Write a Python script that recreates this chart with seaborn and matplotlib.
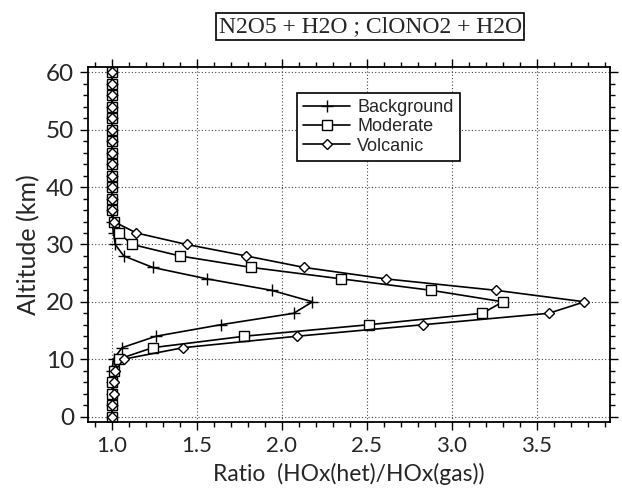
import numpy as np
import pandas as pd
import seaborn as sns
import matplotlib
matplotlib.use("Agg")
import matplotlib.pyplot as plt
from matplotlib.ticker import MultipleLocator

altitude = list(range(0, 62, 2))

# values at 0,2,...,60 km
background = [1.00, 1.00, 1.00, 1.00, 1.00, 1.01, 1.06, 1.26, 1.64, 2.07,
              2.18, 1.94, 1.56, 1.24, 1.07, 1.02, 1.01, 1.00, 1.00, 1.00,
              1.00, 1.00, 1.00, 1.00, 1.00, 1.00, 1.00, 1.00, 1.00, 1.00, 1.00]
moderate = [1.00, 1.00, 1.00, 1.00, 1.01, 1.04, 1.24, 1.78, 2.51, 3.18,
            3.30, 2.88, 2.35, 1.82, 1.40, 1.12, 1.04, 1.01, 1.00, 1.00,
            1.00, 1.00, 1.00, 1.00, 1.00, 1.00, 1.00, 1.00, 1.00, 1.00, 1.00]
volcanic = [1.00, 1.00, 1.01, 1.01, 1.02, 1.07, 1.42, 2.09, 2.83, 3.57,
            3.78, 3.26, 2.61, 2.13, 1.79, 1.44, 1.145, 1.01, 1.00, 1.00,
            1.00, 1.00, 1.00, 1.00, 1.00, 1.00, 1.00, 1.00, 1.00, 1.00, 1.00]
series_names = ["Background", "Moderate", "Volcanic"]
x_ticks = [1.0, 1.5, 2.0, 2.5, 3.0, 3.5]
y_ticks = [0, 10, 20, 30, 40, 50, 60]

frames = []
for name, vals in zip(series_names, [background, moderate, volcanic]):
    frames.append(pd.DataFrame({"ratio": vals, "alt": altitude, "case": name}))
df = pd.concat(frames, ignore_index=True)

sns.set_style("ticks")
plt.rcParams["font.family"] = ["Lato", "DejaVu Sans"]

fig = plt.figure(figsize=(6.22, 4.95), dpi=100)
ax = fig.add_axes([0.1415, 0.147, 0.8392, 0.7183])

marker_map = {"Background": ("+", 8), "Moderate": ("s", 6.5), "Volcanic": ("D", 5.0)}
for name in series_names:
    mk, ms = marker_map[name]
    sns.lineplot(data=df[df["case"] == name], x="ratio", y="alt",
                 color="black", marker=mk, markersize=ms,
                 sort=False, estimator=None, legend=False,
                 linewidth=1.2, markeredgecolor="black",
                 markerfacecolor="white", markeredgewidth=1.0, ax=ax,
                 label=name)

ax.set_xlim(0.86, 3.93)
ax.set_ylim(-1, 61)
ax.set_xticks(x_ticks)
ax.set_yticks(y_ticks)
ax.set_xticklabels([f"{t:.1f}" for t in x_ticks])
ax.xaxis.set_minor_locator(MultipleLocator(0.1))
ax.yaxis.set_minor_locator(MultipleLocator(2))
ax.tick_params(which="both", direction="out", top=True, right=True, color="black", width=1.0)
ax.tick_params(which="major", length=6, pad=4)
ax.tick_params(axis="x", which="major", labelsize=16)
ax.tick_params(axis="y", which="major", labelsize=17.5)
ax.tick_params(which="minor", length=3.5)
for s in ax.spines.values():
    s.set_linewidth(1.3)
    s.set_color("black")
ax.grid(True, which="major", linestyle=(0, (1, 2)), color="#444444", linewidth=0.8)
ax.set_axisbelow(True)

ax.set_xlabel("Ratio  (HOx(het)/HOx(gas))", fontsize=16.5, labelpad=5)
ax.set_ylabel("Altitude (km)", fontsize=18, labelpad=4)

leg = ax.legend(ax.lines[:3], series_names, loc="upper left", bbox_to_anchor=(0.40, 0.926),
                borderaxespad=0, frameon=True, fancybox=False, framealpha=1,
                edgecolor="black", handlelength=2.6, handletextpad=0.4,
                labelspacing=0.12, borderpad=0.35,
                prop={"family": "Liberation Sans", "size": 13})
leg.get_frame().set_linewidth(1.2)

fig.text(0.595, 0.947, "N2O5 + H2O ; ClONO2 + H2O", ha="center", va="center",
         fontsize=17, family="Liberation Serif",
         bbox=dict(boxstyle="square,pad=0.12", fc="white", ec="black", lw=1.2))

fig.savefig("out.png", dpi=100, facecolor="white")
